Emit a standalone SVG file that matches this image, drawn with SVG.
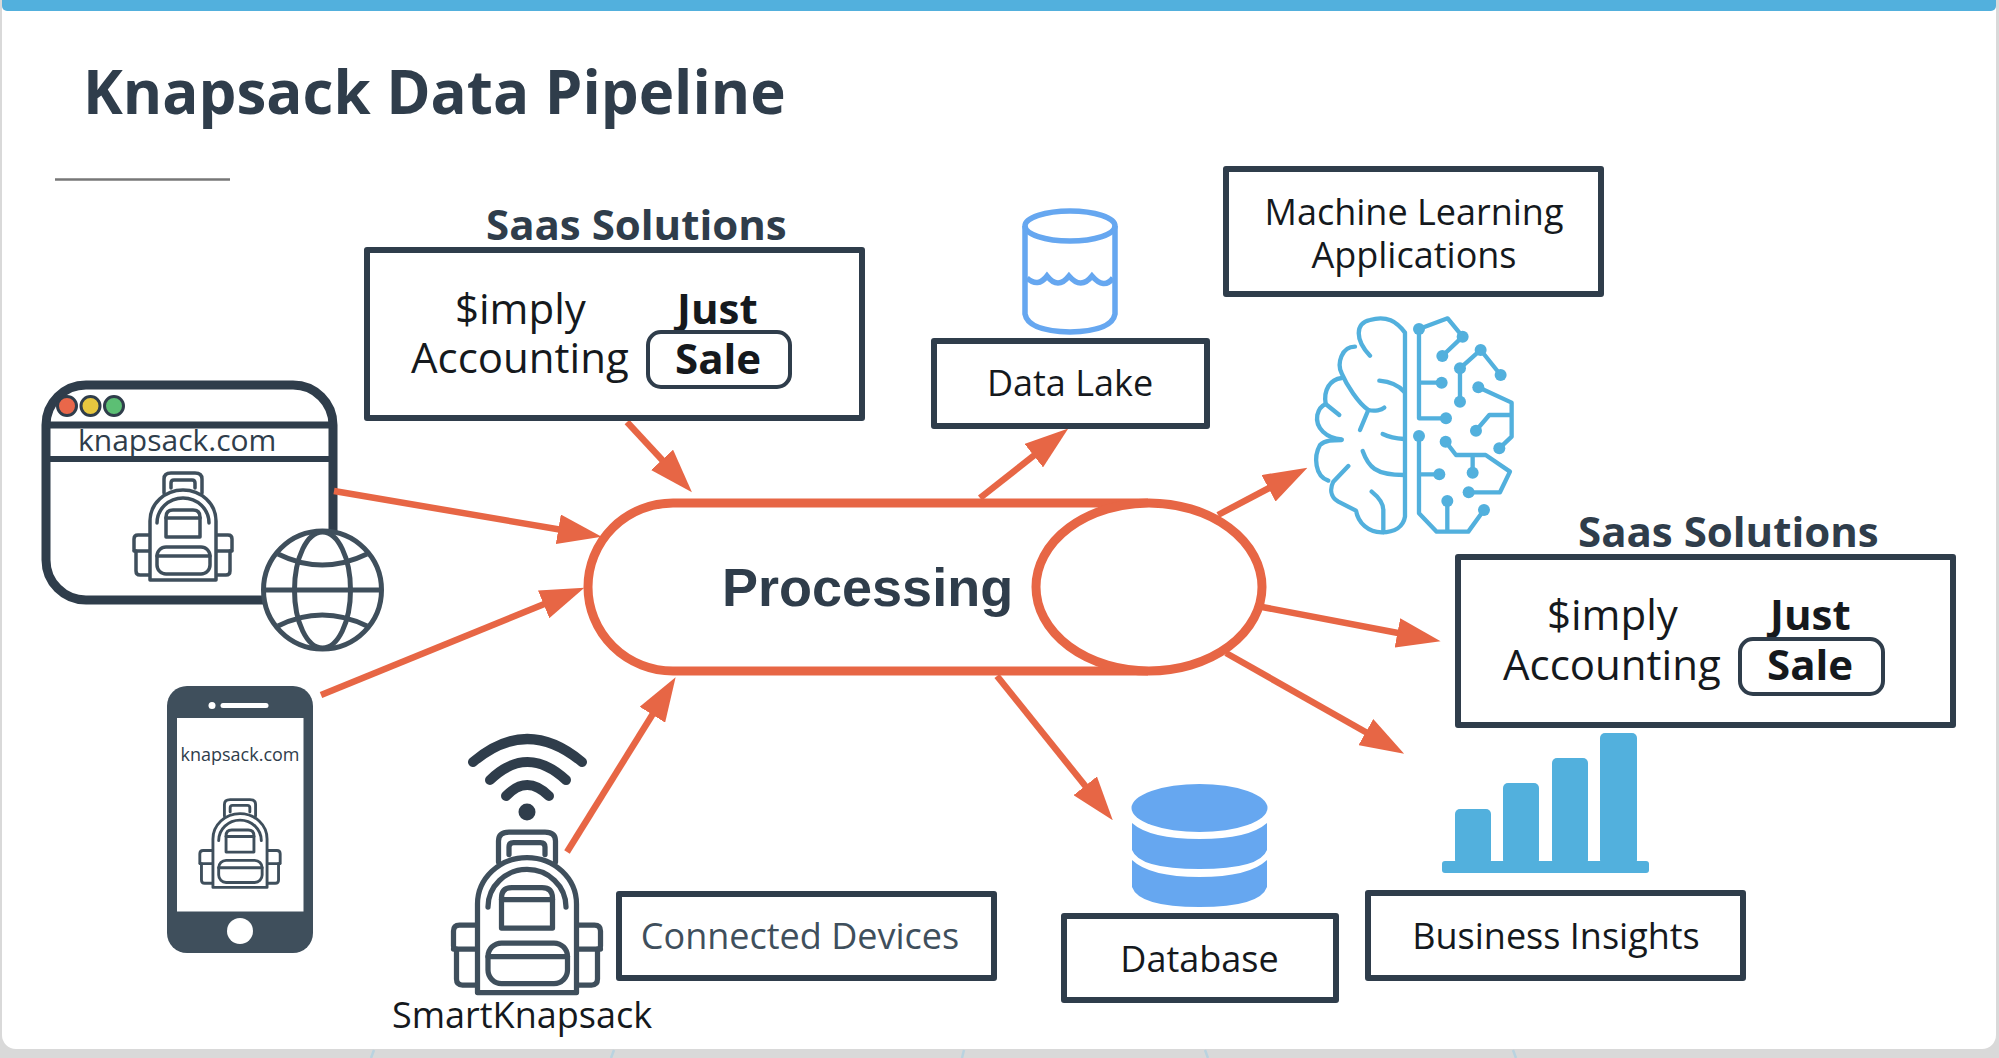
<svg xmlns="http://www.w3.org/2000/svg" xmlns:xlink="http://www.w3.org/1999/xlink" width="1999" height="1058" viewBox="0 0 1999 1058">
<style>
text{font-family:"Open Sans","Noto Sans","DejaVu Sans",sans-serif;fill:#15191d}
.b{font-weight:700}
.m{text-anchor:middle}
.box{fill:#fff;stroke:#2f3d4b;stroke-width:6;stroke-linejoin:round}
.pill{fill:#fff;stroke:#2f3d4b;stroke-width:4}
.pack{fill:#fff;stroke:#3f4f5c;stroke-width:3.5;stroke-linejoin:round;stroke-linecap:round}
.nf{fill:none}
.o{fill:#fff;stroke:#e76645;stroke-width:9}
.c line{stroke:#e76645;stroke-width:6.5;marker-end:url(#ah)}
.brain path{fill:none;stroke:#52b0dd;stroke-width:13;stroke-linecap:round;stroke-linejoin:round}
.brain circle{fill:#52b0dd}
.bar{fill:#52b0dd}
.db{fill:#66a7f0}
.lake{fill:none;stroke:#66a7f0;stroke-width:5.500}
.tick{stroke:#b9d3e0;stroke-width:2.500}
</style>
<defs>
<marker id="ah" markerUnits="userSpaceOnUse" markerWidth="44" markerHeight="30" refX="22" refY="15" orient="auto"><path d="M0 0L44 15L0 30Z" fill="#e76645"/></marker>
<g id="pack" class="pack">
<path d="M31 22V8Q31 2 38 2H62Q69 2 69 8V22"/>
<path d="M38 17V12Q38 9 41 9H59Q62 9 62 12V17"/>
<path d="M17 64H5Q1 64 1 68V78Q1 80 3 80V100Q3 104 7 104H17"/>
<path d="M83 64H95Q99 64 99 68V78Q99 80 97 80V100Q97 104 93 104H83"/>
<path d="M1 80H17M99 80H83"/>
<path d="M17 109V50A33 31 0 0 1 83 50V109Z"/>
<path class="nf" d="M24 52A26 25 0 0 1 76 52"/>
<path d="M33 66V46Q33 39 40 39H60Q67 39 67 46V66Z"/>
<path d="M33 47H67"/>
<rect x="24" y="76" width="53" height="27" rx="9"/>
<path d="M24 85H77"/>
</g>
</defs>
<rect width="1999" height="1058" fill="#d9d9d9"/>
<path class="tick" d="M374 1050L371 1058M614 1050L611 1058M964 1050L962 1058M1205 1050L1208 1058M1513 1050L1516 1058"/>
<rect x="2" y="-20" width="1994" height="1069" rx="14" fill="#fff"/>
<rect x="2" y="-10" width="1994" height="21" rx="5" fill="#52b0dd"/>
<g id="title">
<text class="b" x="83" y="114" font-size="60" style="fill:#2f3d4b">Knapsack Data Pipeline</text>
<line x1="55" y1="179.500" x2="230" y2="179.500" stroke="#777" stroke-width="2.500"/>
</g>
<g id="processing">
<path class="o" d="M1148 503H673A85 84 0 0 0 673 671H1148"/>
<ellipse class="o" cx="1149" cy="587" rx="113" ry="84"/>
<text x="722" y="606" font-size="54" font-weight="700" style="font-family:'Liberation Sans',Arial,sans-serif;fill:#2f3d4b">Processing</text>
</g>
<g id="website">
<rect x="46" y="385" width="287" height="215" rx="40" fill="#fff" stroke="#2f3d4b" stroke-width="9"/>
<path d="M46 425H333" stroke="#2f3d4b" stroke-width="7"/>
<path d="M46 459H333" stroke="#2f3d4b" stroke-width="6"/>
<circle cx="67" cy="406" r="9.500" fill="#e9674a" stroke="#2f3d4b" stroke-width="3"/>
<circle cx="90.500" cy="406" r="9.500" fill="#e7c73f" stroke="#2f3d4b" stroke-width="3"/>
<circle cx="114" cy="406" r="9.500" fill="#5cbf74" stroke="#2f3d4b" stroke-width="3"/>
<text x="78" y="451" font-size="30" style="fill:#2f3d4b">knapsack.com</text>
<use xlink:href="#pack" href="#pack" transform="translate(133,471)"/>
<g fill="none" stroke="#3f4f5c" stroke-width="5">
<circle cx="322.500" cy="590" r="59" fill="#fff"/>
<ellipse cx="322.500" cy="590" rx="28" ry="58"/>
<path d="M263 590H382M278 554Q322 576 367 554M278 626Q322 604 367 626"/>
</g>
</g>
<g id="connectors" class="c">
<line x1="627" y1="422" x2="677" y2="476"/>
<line x1="334" y1="491" x2="580" y2="533"/>
<line x1="321" y1="695" x2="564" y2="596"/>
<line x1="567" y1="852" x2="664" y2="696"/>
<line x1="980" y1="498" x2="1051" y2="442"/>
<line x1="1218" y1="515" x2="1288" y2="478"/>
<line x1="1262" y1="607" x2="1419" y2="637"/>
<line x1="1226" y1="653" x2="1385" y2="743"/>
<line x1="997" y1="676" x2="1099" y2="803"/>
</g>
<g id="phone">
<rect x="167" y="686" width="146" height="267" rx="20" fill="#3f4f5c"/>
<rect x="177" y="718" width="126.500" height="193.500" fill="#fff"/>
<circle cx="240" cy="931" r="13" fill="#fff"/>
<circle cx="212" cy="705.500" r="3.500" fill="#fff"/>
<path d="M223 705.500H266" stroke="#fff" stroke-width="5" stroke-linecap="round"/>
<text x="180.500" y="761" font-size="18" style="fill:#2f3d4b">knapsack.com</text>
<use xlink:href="#pack" href="#pack" transform="translate(199,798) scale(.82)"/>
</g>
<g id="smartknapsack">
<g fill="none" stroke="#2f3d4b" stroke-width="10" stroke-linecap="round">
<path d="M473 762Q527 716 582 762"/>
<path d="M490 780Q527 744 566 780"/>
<path d="M506 796Q527 774 549 796"/>
</g>
<circle cx="527" cy="812" r="8.500" fill="#2f3d4b"/>
<use xlink:href="#pack" href="#pack" transform="translate(452,829) scale(1.5)"/>
<text x="392" y="1028" font-size="36">SmartKnapsack</text>
</g>
<g id="saas-top">
<text class="b" x="486" y="240" font-size="42" style="fill:#2f3d4b">Saas Solutions</text>
<rect class="box" x="367" y="250" width="495" height="168"/>
<text x="455" y="324" font-size="42">$imply</text>
<text x="411" y="373" font-size="42">Accounting</text>
<text class="b" x="677" y="324" font-size="42">Just</text>
<rect class="pill" x="648" y="332" width="142" height="55" rx="13"/>
<text class="b" x="675" y="374" font-size="42">Sale</text>
</g>
<g id="saas-right">
<text class="b" x="1578" y="547" font-size="42" style="fill:#2f3d4b">Saas Solutions</text>
<rect class="box" x="1458" y="557" width="495" height="168"/>
<text x="1547" y="630" font-size="42">$imply</text>
<text x="1503" y="680" font-size="42">Accounting</text>
<text class="b" x="1770" y="630" font-size="42">Just</text>
<rect class="pill" x="1740" y="639" width="143" height="55" rx="13"/>
<text class="b" x="1767" y="680" font-size="42">Sale</text>
</g>
<g id="data-lake">
<ellipse class="lake" cx="1070" cy="226" rx="45" ry="15"/>
<path class="lake" d="M1025 226V314Q1028 331 1070 332Q1112 331 1115 314V226"/>
<path class="lake" d="M1027 278Q1038 288 1047 276Q1058 290 1069 276Q1081 290 1092 276Q1104 290 1113 278" stroke-width="4"/>
<rect class="box" x="934" y="341" width="273" height="85"/>
<text class="m" x="1070" y="396" font-size="36">Data Lake</text>
</g>
<g id="ml">
<rect class="box" x="1226" y="169" width="375" height="125"/>
<text class="m" x="1414" y="225" font-size="36">Machine Learning</text>
<text class="m" x="1414" y="268" font-size="36">Applications</text>
</g>
<g id="brain" class="brain" transform="translate(1280,290) scale(.3333)">
<path d="M270 197C225 150 225 100 270 90C320 75 350 95 375 128V680C370 710 345 727 305 727C265 727 235 700 228 662L175 635C150 620 150 595 160 575L205 528"/>
<path d="M145 572C105 560 100 500 120 465C135 450 160 450 185 450"/>
<path d="M185 448C140 445 105 415 112 375C118 350 130 345 137 342L178 375"/>
<path d="M137 342C130 300 150 268 185 264"/>
<path d="M225 170C185 170 170 220 185 250C200 285 235 340 265 360C285 365 305 360 313 353"/>
<path d="M265 360L240 420"/>
<path d="M298 272C330 275 355 285 372 305"/>
<path d="M308 432C325 440 345 445 372 447"/>
<path d="M248 483C265 530 285 555 372 555"/>
<path d="M275 605C300 625 310 640 310 660V727"/>
<path d="M417 117V385H498M417 278H485M417 117L503 85L548 140L487 198"/>
<path d="M662 255L602 180L540 235V335"/>
<path d="M595 292L695 338V440L658 475M695 375H628L588 422"/>
<path d="M417 438V670L470 725H565L612 660M417 553H478M502 725V633"/>
<path d="M497 455L528 495H617L690 545L660 607H566M578 495V548"/>
<circle cx="417" cy="117" r="18"/><circle cx="548" cy="140" r="18"/><circle cx="487" cy="198" r="18"/><circle cx="485" cy="278" r="18"/><circle cx="498" cy="385" r="18"/>
<circle cx="602" cy="180" r="18"/><circle cx="662" cy="255" r="18"/><circle cx="540" cy="235" r="18"/><circle cx="540" cy="335" r="18"/>
<circle cx="595" cy="292" r="18"/><circle cx="658" cy="475" r="18"/><circle cx="588" cy="422" r="18"/>
<circle cx="417" cy="438" r="18"/><circle cx="478" cy="553" r="18"/><circle cx="502" cy="633" r="18"/><circle cx="612" cy="660" r="18"/>
<circle cx="497" cy="455" r="18"/><circle cx="578" cy="548" r="18"/><circle cx="566" cy="607" r="18"/>
</g>
<g id="database">
<ellipse class="db" cx="1199.500" cy="808" rx="68" ry="24"/>
<path class="db" d="M1132 823Q1150 839 1199.500 839Q1249 839 1267 823V850Q1260 869 1199.500 869Q1139 869 1132 850Z"/>
<path class="db" d="M1132 860Q1150 877 1199.500 877Q1249 877 1267 860V887Q1260 907 1199.500 907Q1139 907 1132 887Z"/>
<rect class="box" x="1064" y="916" width="272" height="84"/>
<text class="m" x="1199.500" y="972" font-size="36">Database</text>
</g>
<g id="insights">
<rect class="bar" x="1442" y="861" width="207" height="12" rx="3"/>
<rect class="bar" x="1455" y="809" width="36" height="56" rx="5"/>
<rect class="bar" x="1503" y="783" width="36" height="82" rx="5"/>
<rect class="bar" x="1552" y="758" width="36" height="107" rx="5"/>
<rect class="bar" x="1600" y="733" width="37" height="132" rx="5"/>
<rect class="box" x="1368" y="893" width="375" height="85"/>
<text class="m" x="1556" y="949" font-size="36">Business Insights</text>
</g>
<g id="connected-devices">
<rect class="box" x="619" y="894" width="375" height="84"/>
<text class="m" x="800" y="949" font-size="36" style="fill:#3f4f5c">Connected Devices</text>
</g>
</svg>
